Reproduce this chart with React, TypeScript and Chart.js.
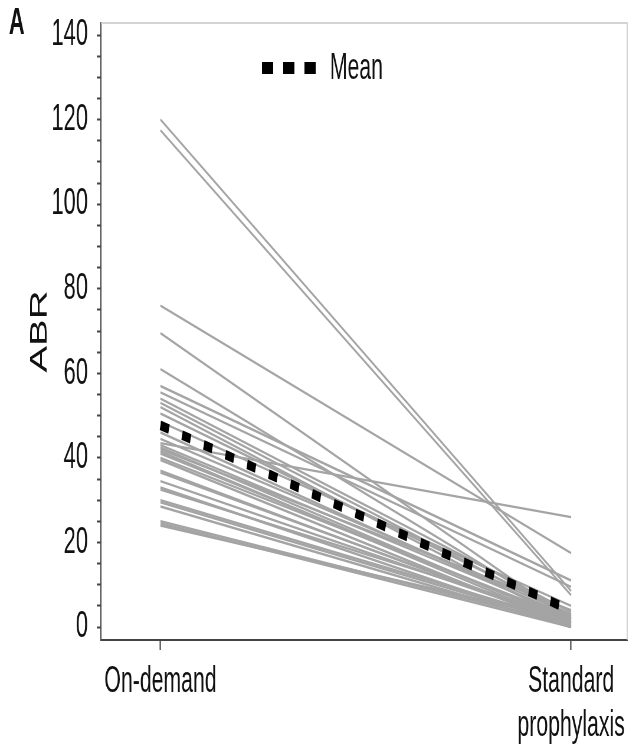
import { useEffect, useRef } from "react";
import { Chart, registerables } from "chart.js";

Chart.register(...registerables);

// ---- data ----
const categories: (string | string[])[] = ["On-demand", ["Standard", "prophylaxis"]];

const onDemandABR = [
  120, 117.5, 76, 69.5, 61, 57, 55.5, 54, 53, 52, 50.5,
  48.5, 46, 44.5, 43.5, 43, 42.5, 42, 41.5, 41, 40, 39.5,
  37, 36.5, 34.5, 33, 32.5, 30, 29.5, 28.5, 25, 24.5, 24,
];
const standardProphylaxisABR = [
  8.5, 7.5, 17.5, 1.5, 2, 11, 9.5, 3.5, 2.5, 1, 3,
  5, 2, 3, 26, 2.5, 1, 4, 0.5, 1.5, 2, 0,
  0.5, 1, 1, 0, 2, 1, 0.5, 0, 0.5, 0, 1.5,
];
const meanABR = [47.7, 3.9];

const meanLabel = "Mean";
const yAxisTitle = "ABR";
const panelLabel = "A";
const yTickValues = [0, 5, 10, 15, 20, 25, 30, 35, 40, 45, 50, 55, 60, 65, 70, 75, 80, 85, 90, 95, 100, 105, 110, 115, 120, 125, 130, 135, 140];
const yLabelValues = [0, 20, 40, 60, 80, 100, 120, 140];

// ---- layout (drawing space is compressed horizontally to match reference) ----
const SX = 0.59;
const W = 1066;
const H = 751;
const FONT = '"Liberation Sans", Arial, Helvetica, sans-serif';
const NARROW = '"Liberation Sans Narrow", "Liberation Sans", Arial, sans-serif';

export default function App() {
  const ref = useRef<HTMLCanvasElement>(null);

  useEffect(() => {
    const canvas = ref.current;
    if (!canvas) return;

    const framePlugin = {
      id: "frame",
      beforeDatasetsDraw(chart: any) {
        const { ctx, chartArea: a } = chart;
        ctx.save();
        ctx.strokeStyle = "#c6c6c6";
        ctx.lineWidth = 1.5;
        ctx.beginPath();
        ctx.moveTo(a.left, a.top);
        ctx.lineTo(a.right, a.top);
        ctx.lineTo(a.right, a.bottom);
        ctx.stroke();
        ctx.restore();
      },
    };

    const overlayPlugin = {
      id: "overlay",
      afterDraw(chart: any) {
        const ctx = chart.ctx;
        const a = chart.chartArea;
        ctx.save();
        ctx.fillStyle = "#111";
        ctx.textAlign = "left";
        ctx.textBaseline = "middle";
        ctx.font = `bold 37px ${FONT}`;
        ctx.fillText(panelLabel, 15, 24);

        const ds = chart.data.datasets[0];
        const y = a.top + 45;
        ctx.strokeStyle = "#000";
        ctx.lineWidth = 12;
        ctx.lineCap = "butt";
        ctx.setLineDash([19, 17]);
        ctx.beginPath();
        ctx.moveTo(444, y);
        ctx.lineTo(539, y);
        ctx.stroke();
        ctx.setLineDash([]);
        ctx.font = `36px ${FONT}`;
        ctx.fillText(ds.label, 559, y + 1);
        ctx.restore();
      },
    };

    const grayDatasets = onDemandABR.map((v, i) => ({
      label: `Patient ${i + 1}`,
      data: [
        { x: 0, y: v },
        { x: 1, y: standardProphylaxisABR[i] },
      ],
      borderColor: "#a4a4a4",
      borderWidth: 2.4,
      pointRadius: 0,
      order: 1,
    }));

    const chart = new Chart(canvas, {
      type: "line",
      data: {
        datasets: [
          {
            label: meanLabel,
            data: meanABR.map((y, i) => ({ x: i, y })),
            borderColor: "#000",
            borderWidth: 9.5,
            borderDash: [15, 23],
            borderCapStyle: "butt",
            pointRadius: 0,
            order: 0,
          } as any,
          ...grayDatasets,
        ],
      },
      options: {
        animation: false,
        responsive: false,
        devicePixelRatio: 1,
        layout: { padding: { left: 0, right: 3, top: 23, bottom: 0 } },
        plugins: { legend: { display: false }, tooltip: { enabled: false } },
        scales: {
          x: {
            type: "linear",
            min: -0.145,
            max: 1.1365,
            afterBuildTicks: (s: any) => {
              s.ticks = categories.map((_, i) => ({ value: i }));
            },
            afterFit: (s: any) => {
              s.height = 111;
              s.paddingLeft = 0;
              s.paddingRight = 0;
            },
            grid: { drawOnChartArea: false, drawTicks: true, tickLength: 10, tickColor: "#333", tickWidth: 2 },
            border: { display: true, color: "#444", width: 2 },
            ticks: {
              callback: (v: any) => categories[v as number] as any,
              font: { family: FONT, size: 36, lineHeight: 1.22 },
              color: "#111",
              padding: 10,
              maxRotation: 0,
              autoSkip: false,
            },
          },
          y: {
            type: "linear",
            min: -3.07,
            max: 142.84,
            afterBuildTicks: (s: any) => {
              s.ticks = yTickValues.map((v) => ({ value: v }));
            },
            afterFit: (s: any) => {
              s.width = 171;
              s.paddingTop = 0;
              s.paddingBottom = 0;
            },
            grid: { drawOnChartArea: false, drawTicks: true, tickLength: 7, tickColor: "#444", tickWidth: 2 },
            border: { display: true, color: "#444", width: 2 },
            ticks: {
              callback: (v: any) => (yLabelValues.includes(v as number) ? String(v) : ""),
              font: { family: NARROW, size: 37 },
              color: "#111",
              padding: 15,
              autoSkip: false,
            },
            title: {
              display: true,
              text: yAxisTitle,
              font: { family: FONT, size: 40 },
              color: "#111",
              padding: { top: 44, bottom: 0 },
            },
          },
        },
      },
      plugins: [framePlugin, overlayPlugin],
    });

    return () => chart.destroy();
  }, []);

  return (
    <div style={{ position: "fixed", left: 0, top: 0, width: 629, height: H, overflow: "hidden", background: "#fff" }}>
      <div style={{ width: W, height: H, transform: `scaleX(${SX})`, transformOrigin: "0 0" }}>
        <canvas ref={ref} width={W} height={H} style={{ display: "block" }} />
      </div>
    </div>
  );
}
